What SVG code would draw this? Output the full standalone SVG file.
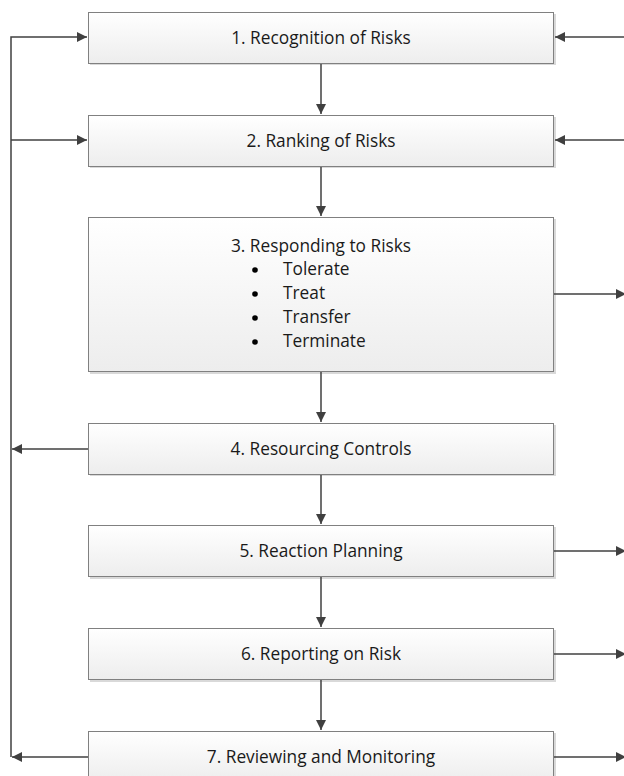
<svg xmlns="http://www.w3.org/2000/svg" width="624" height="776" viewBox="0 0 624 776">
<defs>
<linearGradient id="g" x1="0" y1="0" x2="0" y2="1">
<stop offset="0" stop-color="#ffffff"/>
<stop offset="1" stop-color="#ededed"/>
</linearGradient>
<marker id="ah" viewBox="0 0 10 10" refX="10" refY="5" markerWidth="10" markerHeight="10" markerUnits="userSpaceOnUse" orient="auto">
<path d="M0,0 L10,5 L0,10 z" fill="#404040"/>
</marker>
</defs>
<style>
.box{fill:url(#g);stroke:#808080;stroke-width:1}
.sh{fill:#d9d9d9}
.t{font-family:"Open Sans",Lato,sans-serif;font-size:17.3px;fill:#1a1a1a}
.c{stroke:#404040;stroke-width:1.5;fill:none}
</style>
<rect width="624" height="776" fill="#ffffff"/>
<g id="n1"><rect class="sh" x="90" y="14" width="466" height="51"/><rect class="box" x="88.5" y="12.5" width="465" height="51"/><text class="t" x="321" y="44" text-anchor="middle">1. Recognition of Risks</text></g>
<g id="n2"><rect class="sh" x="90" y="117" width="466" height="51"/><rect class="box" x="88.5" y="115.5" width="465" height="51"/><text class="t" x="321" y="147" text-anchor="middle">2. Ranking of Risks</text></g>
<g id="n3"><rect class="sh" x="90" y="219" width="466" height="155"/><rect class="box" x="88.5" y="217.5" width="465" height="154"/>
<text class="t" x="321" y="252" text-anchor="middle">3. Responding to Risks</text>
<circle cx="255" cy="270" r="2.8" fill="#000"/><text class="t" x="283" y="275">Tolerate</text>
<circle cx="255" cy="294" r="2.8" fill="#000"/><text class="t" x="283" y="299">Treat</text>
<circle cx="255" cy="318" r="2.8" fill="#000"/><text class="t" x="283" y="323">Transfer</text>
<circle cx="255" cy="342" r="2.8" fill="#000"/><text class="t" x="283" y="347">Terminate</text>
</g>
<g id="n4"><rect class="sh" x="90" y="425" width="466" height="51"/><rect class="box" x="88.5" y="423.5" width="465" height="51"/><text class="t" x="321" y="455" text-anchor="middle">4. Resourcing Controls</text></g>
<g id="n5"><rect class="sh" x="90" y="527" width="466" height="52"/><rect class="box" x="88.5" y="525.5" width="465" height="51"/><text class="t" x="321" y="557" text-anchor="middle">5. Reaction Planning</text></g>
<g id="n6"><rect class="sh" x="90" y="630" width="466" height="52"/><rect class="box" x="88.5" y="628.5" width="465" height="51"/><text class="t" x="321" y="660" text-anchor="middle">6. Reporting on Risk</text></g>
<g id="n7"><rect class="sh" x="90" y="733" width="466" height="51"/><rect class="box" x="88.5" y="731.5" width="465" height="51"/><text class="t" x="321" y="763" text-anchor="middle">7. Reviewing and Monitoring</text></g>
<g id="connectors">
<path class="c" d="M321,64 V114" marker-end="url(#ah)"/>
<path class="c" d="M321,167 V216" marker-end="url(#ah)"/>
<path class="c" d="M321,372 V422" marker-end="url(#ah)"/>
<path class="c" d="M321,475 V524" marker-end="url(#ah)"/>
<path class="c" d="M321,577 V627" marker-end="url(#ah)"/>
<path class="c" d="M321,680 V730" marker-end="url(#ah)"/>
<path class="c" d="M11,757 V37 H87" marker-end="url(#ah)"/>
<path class="c" d="M11,140 H87" marker-end="url(#ah)"/>
<path class="c" d="M88,449 H12" marker-end="url(#ah)"/>
<path class="c" d="M88,757 H12" marker-end="url(#ah)"/>
<path class="c" d="M624,37 H555" marker-end="url(#ah)"/>
<path class="c" d="M624,140 H555" marker-end="url(#ah)"/>
<path class="c" d="M554,294 H626" marker-end="url(#ah)"/>
<path class="c" d="M554,551 H626" marker-end="url(#ah)"/>
<path class="c" d="M554,654 H626" marker-end="url(#ah)"/>
<path class="c" d="M554,757 H626" marker-end="url(#ah)"/>
</g>
</svg>
